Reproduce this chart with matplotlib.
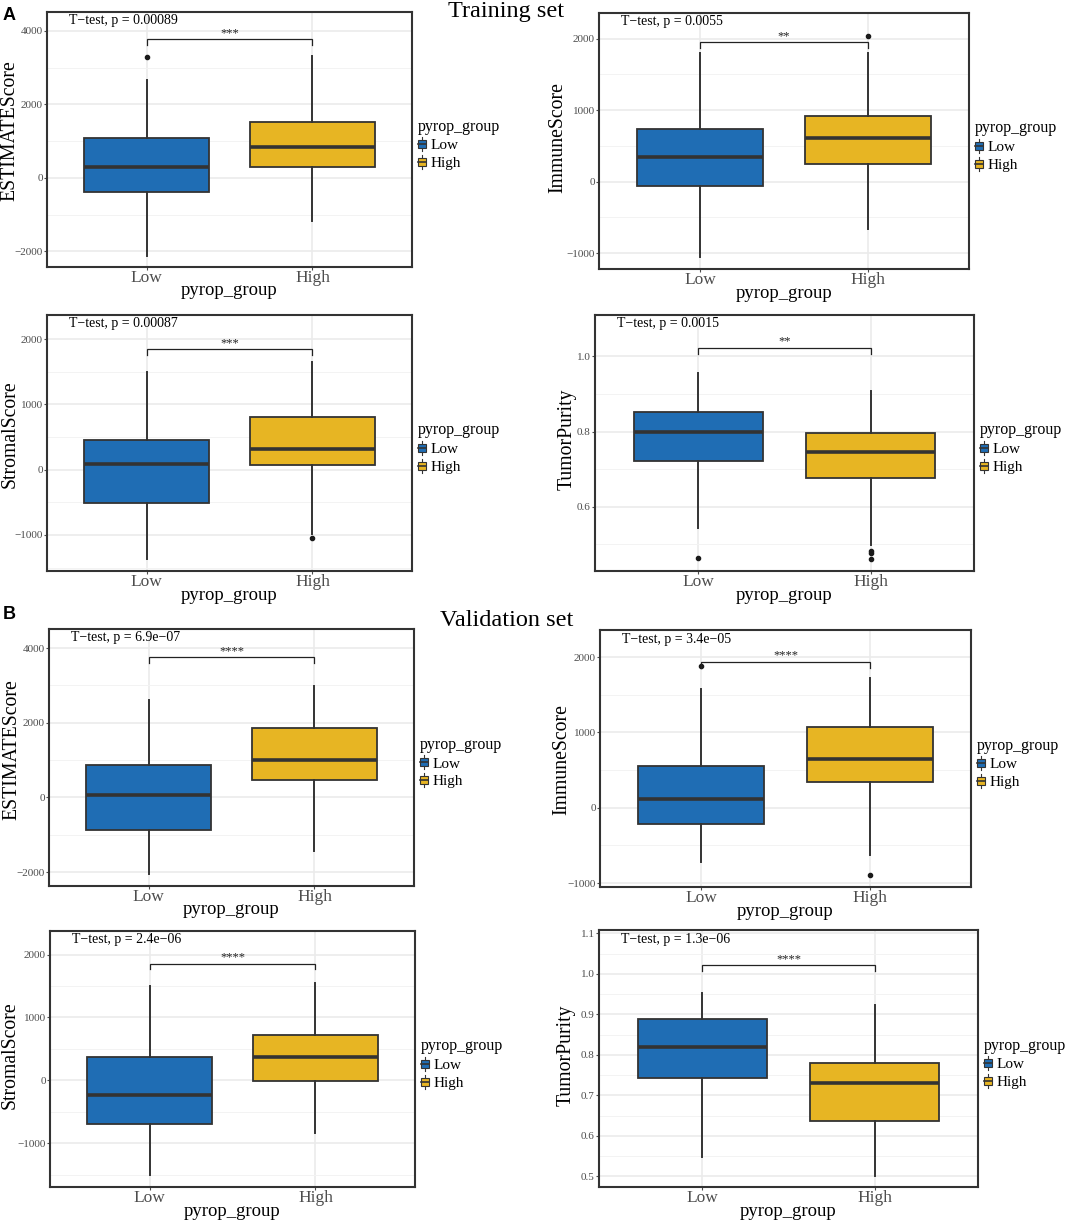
import matplotlib
matplotlib.use("Agg")
import matplotlib.pyplot as plt
from matplotlib.patches import Rectangle, Patch
from matplotlib.lines import Line2D
from matplotlib.legend_handler import HandlerBase

plt.rcParams['font.family'] = ['Liberation Serif', 'DejaVu Serif']
plt.rcParams['axes.unicode_minus'] = True

# ---------------- data ----------------
groups = ["Low", "High"]
legend_title = "pyrop_group"
x_title = "pyrop_group"
set_titles = ["Training set", "Validation set"]
panel_letters = ["A", "B"]

score_names = ["ESTIMATEScore", "ImmuneScore", "StromalScore", "TumorPurity",
               "ESTIMATEScore", "ImmuneScore", "StromalScore", "TumorPurity"]

# five-number summaries: [whisker low, Q1, median, Q3, whisker high]
est_tr_low = [-2120, -380, 300, 1088, 2667]
est_tr_high = [-1170, 300, 844, 1524, 3320]
imm_tr_low = [-1057, -60, 341, 733, 1796]
imm_tr_high = [-666, 247, 611, 919, 1804]
str_tr_low = [-1369, -511, 86, 449, 1494]
str_tr_high = [-980, 70, 311, 801, 1648]
pur_tr_low = [0.543, 0.722, 0.798, 0.853, 0.957]
pur_tr_high = [0.499, 0.677, 0.745, 0.796, 0.907]

est_va_low = [-2038, -869, 54, 858, 2609]
est_va_high = [-1432, 464, 992, 1866, 2984]
imm_va_low = [-721, -216, 111, 550, 1572]
imm_va_high = [-632, 345, 643, 1076, 1726]
str_va_low = [-1513, -696, -228, 371, 1497]
str_va_high = [-833, -11, 371, 721, 1549]
pur_va_low = [0.549, 0.744, 0.819, 0.888, 0.952]
pur_va_high = [0.502, 0.638, 0.731, 0.781, 0.922]

# outliers
est_tr_low_out = [3290]
est_tr_high_out = []
imm_tr_low_out = []
imm_tr_high_out = [2038]
str_tr_low_out = []
str_tr_high_out = [-1047]
pur_tr_low_out = [0.463]
pur_tr_high_out = [0.481, 0.476, 0.461]
est_va_low_out = []
est_va_high_out = []
imm_va_low_out = [1886]
imm_va_high_out = [-894]
str_va_low_out = []
str_va_high_out = []
pur_va_low_out = []
pur_va_high_out = []

p_labels = ["T\u2212test, p = 0.00089", "T\u2212test, p = 0.0055",
            "T\u2212test, p = 0.00087", "T\u2212test, p = 0.0015",
            "T\u2212test, p = 6.9e\u221207", "T\u2212test, p = 3.4e\u221205",
            "T\u2212test, p = 2.4e\u221206", "T\u2212test, p = 1.3e\u221206"]
stars = ["***", "**", "***", "**", "****", "****", "****", "****"]
bracket_y = [3780, 1950, 1847, 1.023, 3753, 1939, 1858, 1.021]

y_limits = [(-2422, 4517), (-1221, 2359), (-1553, 2368), (0.429, 1.110),
            (-2370, 4512), (-1053, 2360), (-1699, 2377), (0.474, 1.108)]
y_ticks = [[-2000, 0, 2000, 4000], [-1000, 0, 1000, 2000],
           [-1000, 0, 1000, 2000], [0.6, 0.8, 1.0],
           [-2000, 0, 2000, 4000], [-1000, 0, 1000, 2000],
           [-1000, 0, 1000, 2000], [0.5, 0.6, 0.7, 0.8, 0.9, 1.0, 1.1]]
y_tick_labels = [["\u22122000", "0", "2000", "4000"], ["\u22121000", "0", "1000", "2000"],
                 ["\u22121000", "0", "1000", "2000"], ["0.6", "0.8", "1.0"],
                 ["\u22122000", "0", "2000", "4000"], ["\u22121000", "0", "1000", "2000"],
                 ["\u22121000", "0", "1000", "2000"], ["0.5", "0.6", "0.7", "0.8", "0.9", "1.0", "1.1"]]
y_minor = [[-1000, 1000, 3000], [-500, 500, 1500], [-1500, -500, 500, 1500], [0.5, 0.7, 0.9],
           [-1000, 1000, 3000], [-500, 500, 1500], [-1500, -500, 500, 1500],
           [0.55, 0.65, 0.75, 0.85, 0.95, 1.05]]

summaries = [(est_tr_low, est_tr_high), (imm_tr_low, imm_tr_high),
             (str_tr_low, str_tr_high), (pur_tr_low, pur_tr_high),
             (est_va_low, est_va_high), (imm_va_low, imm_va_high),
             (str_va_low, str_va_high), (pur_va_low, pur_va_high)]
outliers = [(est_tr_low_out, est_tr_high_out), (imm_tr_low_out, imm_tr_high_out),
            (str_tr_low_out, str_tr_high_out), (pur_tr_low_out, pur_tr_high_out),
            (est_va_low_out, est_va_high_out), (imm_va_low_out, imm_va_high_out),
            (str_va_low_out, str_va_high_out), (pur_va_low_out, pur_va_high_out)]

# ---------------- style / layout ----------------
colors = ["#1F6DB4", "#E7B523"]
edge = "#333333"
W, H = 1072, 1220
axes_px = [(47, 12, 412, 267), (599, 13, 969, 269),
           (47, 315, 412, 571), (595, 315, 974, 571),
           (49, 629, 414, 886), (600, 630, 971, 887),
           (50, 931, 415, 1187), (599, 930, 978, 1187)]
ylabel_x_px = [10, 558, 10, 567, 12, 562, 10, 566]
ylabel_y_px = [131, 138, 434, 439, 750, 760, 1055, 1055]

fig = plt.figure(figsize=(W / 100, H / 100), dpi=100)


class BoxKeyHandler(HandlerBase):
    def create_artists(self, legend, orig_handle, xdescent, ydescent,
                       width, height, fontsize, trans):
        fc = orig_handle.get_facecolor()
        x0, y0 = -xdescent, -ydescent
        cx = x0 + width / 2
        wl = Line2D([cx, cx], [y0 - height * 0.1, y0 + height * 1.1], color=edge, lw=0.8)
        rect = Rectangle((x0, y0 + height * 0.15), width, height * 0.7,
                         facecolor=fc, edgecolor=edge, lw=0.8)
        med = Line2D([x0, x0 + width], [y0 + height / 2] * 2, color=edge, lw=1.2)
        arts = [wl, rect, med]
        for a in arts:
            a.set_transform(trans)
        return arts


for i in range(8):
    l, t, r, b = axes_px[i]
    ax = fig.add_axes([l / W, 1 - b / H, (r - l) / W, (b - t) / H])
    lo, hi = summaries[i]
    olo, ohi = outliers[i]
    stats = []
    for s, o, g in zip((lo, hi), (olo, ohi), groups):
        stats.append(dict(whislo=s[0], q1=s[1], med=s[2], q3=s[3], whishi=s[4],
                          fliers=o, label=g))
    bp = ax.bxp(stats, positions=[1, 2], widths=0.75, patch_artist=True,
                showcaps=False,
                boxprops=dict(edgecolor=edge, linewidth=1.3),
                medianprops=dict(color=edge, linewidth=2.6, solid_capstyle='butt'),
                whiskerprops=dict(color=edge, linewidth=1.4),
                flierprops=dict(marker='o', markersize=3, markerfacecolor='#1a1a1a',
                                markeredgecolor='#1a1a1a'))
    for patch, c in zip(bp['boxes'], colors):
        patch.set_facecolor(c)
    ax.set_xlim(0.4, 2.6)
    ax.set_ylim(*y_limits[i])
    ax.set_yticks(y_ticks[i])
    ax.set_yticklabels(y_tick_labels[i], fontsize=8, color="#4D4D4D")
    ax.set_yticks(y_minor[i], minor=True)
    ax.set_xticks([1, 2])
    ax.set_xticklabels(groups, fontsize=12.5, color="#4D4D4D")
    ax.tick_params(axis='y', which='major', length=2, width=0.8, color="#4D4D4D", pad=1)
    ax.tick_params(axis='x', which='major', length=2, width=0.8, color="#4D4D4D", pad=0.5)
    ax.tick_params(axis='y', which='minor', length=0)
    ax.set_axisbelow(True)
    ax.grid(True, which='major', color="#EBEBEB", linewidth=1.2)
    ax.grid(True, which='minor', axis='y', color="#F3F3F3", linewidth=0.7)
    for sp in ax.spines.values():
        sp.set_color(edge)
        sp.set_linewidth(1.5)
    # y axis title
    fig.text(ylabel_x_px[i] / W, 1 - ylabel_y_px[i] / H, score_names[i],
             rotation=90, ha='center', va='center', fontsize=14.2)
    ax.annotate(x_title, xy=(0.5, 0), xycoords='axes fraction',
                xytext=(0, -24 * 0.72), textcoords='offset points',
                ha='center', va='center', fontsize=13.5)
    # p-value text
    ax.annotate(p_labels[i], xy=(0, 1), xycoords='axes fraction',
                xytext=(22 * 0.72, -9 * 0.72), textcoords='offset points',
                ha='left', va='center', fontsize=10)
    # bracket
    yr = y_limits[i][1] - y_limits[i][0]
    tk = 0.023 * yr
    by = bracket_y[i]
    ax.plot([1, 1, 2, 2], [by - tk, by, by, by - tk], color="#222222", lw=0.9,
            solid_joinstyle='miter')
    ax.annotate(stars[i], xy=(1.5, by), xycoords='data', xytext=(0, 0),
                textcoords='offset points', ha='center', va='bottom', fontsize=9,
                color="#222222")
    # legend
    handles = [Patch(facecolor=c, edgecolor=edge, label=g) for c, g in zip(colors, groups)]
    ax.legend(handles=handles, title=legend_title, loc='center left',
              bbox_to_anchor=(1 + 6 / (r - l), 0.5 - 5 / (b - t)), frameon=False,
              fontsize=11, title_fontsize=11.5, borderpad=0, borderaxespad=0,
              handlelength=0.5, handleheight=0.8, handletextpad=0.35,
              labelspacing=0.25, alignment='left',
              handler_map={Patch: BoxKeyHandler()})

# section titles and letters
fig.text(506 / W, 1 - 11 / H, set_titles[0], ha='center', va='center', fontsize=17.5)
fig.text(507 / W, 1 - 620 / H, set_titles[1], ha='center', va='center', fontsize=17.5)
fig.text(3 / W, 1 - 15 / H, panel_letters[0], ha='left', va='center', fontsize=13,
         fontweight='bold', family=['Liberation Sans', 'DejaVu Sans'])
fig.text(3 / W, 1 - 615 / H, panel_letters[1], ha='left', va='center', fontsize=13,
         fontweight='bold', family=['Liberation Sans', 'DejaVu Sans'])

fig.savefig("out.png", dpi=100, facecolor='white')
